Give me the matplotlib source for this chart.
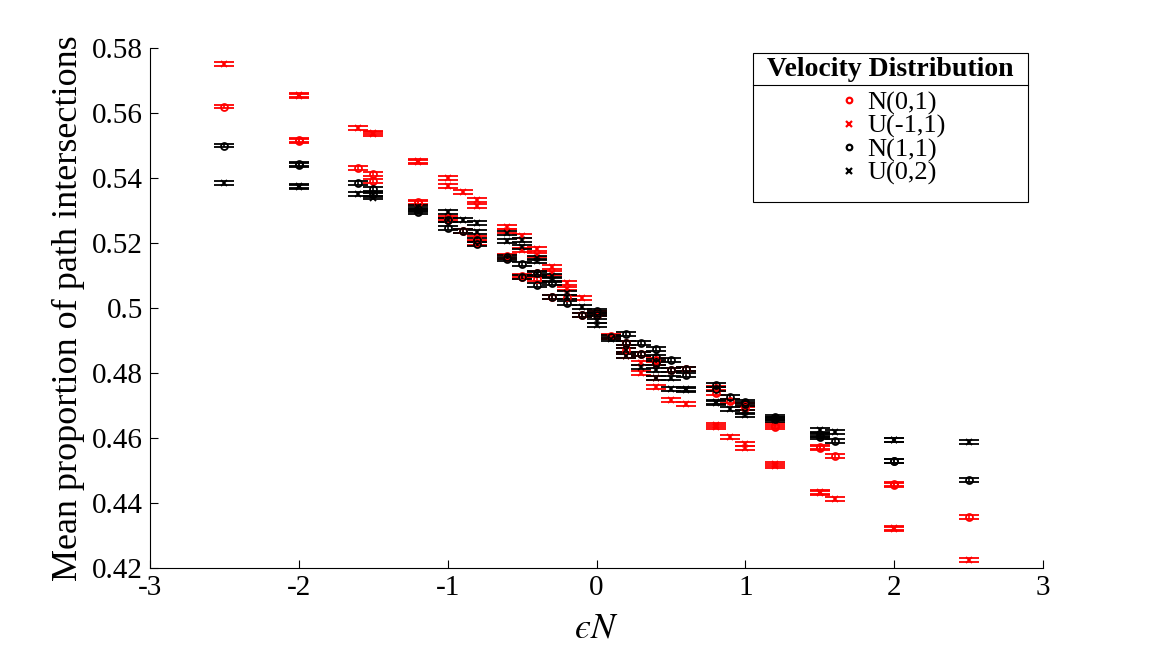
import matplotlib
matplotlib.use("Agg")
import matplotlib.pyplot as plt
from matplotlib.lines import Line2D
from matplotlib.patches import Rectangle
from matplotlib.ticker import FuncFormatter

plt.rcParams['font.family'] = ['Liberation Serif', 'DejaVu Serif']
plt.rcParams['mathtext.fontset'] = 'stix'
plt.rcParams['axes.unicode_minus'] = False

# ---- data (eps*N, mean proportion) ----
n01_x = [-2.5, -2.0, -2.0, -1.6, -1.5, -1.5, -1.2, -1.2, -1.0, -1.0, -0.9, -0.8, -0.8,
         -0.6, -0.6, -0.5, -0.5, -0.4, -0.4, -0.3, -0.2, -0.1, 0.0, 0.0, 0.1, 0.2, 0.2,
         0.3, 0.4, 0.4, 0.5, 0.6, 0.8, 0.8, 0.9, 1.0, 1.0, 1.2, 1.2, 1.5, 1.5, 1.6,
         2.0, 2.0, 2.5]
n01_y = [0.5620, 0.5518, 0.5515, 0.5430, 0.5412, 0.5391, 0.5326, 0.5322, 0.5277, 0.5270,
         0.5237, 0.5215, 0.5200, 0.5157, 0.5160, 0.5095, 0.5100, 0.5108, 0.5090, 0.5034,
         0.5035, 0.4978, 0.4985, 0.4980, 0.4914, 0.4892, 0.4870, 0.4858, 0.4840, 0.4830,
         0.4809, 0.4812, 0.4754, 0.4738, 0.4714, 0.4702, 0.4692, 0.4634, 0.4640, 0.4569,
         0.4572, 0.4545, 0.4458, 0.4455, 0.4358]
n01_err = 0.0006

u11_x = [-2.5, -2.0, -2.0, -1.6, -1.5, -1.5, -1.2, -1.2, -1.0, -1.0, -0.9, -0.8, -0.8,
         -0.6, -0.6, -0.5, -0.5, -0.4, -0.4, -0.3, -0.3, -0.2, -0.2, -0.1, 0.0, 0.1,
         0.2, 0.2, 0.3, 0.3, 0.4, 0.4, 0.5, 0.6, 0.8, 0.8, 0.9, 1.0, 1.0, 1.2, 1.2,
         1.5, 1.5, 1.6, 2.0, 2.0, 2.5]
u11_y = [0.5750, 0.5655, 0.5652, 0.5555, 0.5540, 0.5535, 0.5453, 0.5450, 0.5400, 0.5375,
         0.5357, 0.5332, 0.5314, 0.5250, 0.5237, 0.5222, 0.5178, 0.5182, 0.5163, 0.5126,
         0.5108, 0.5077, 0.5060, 0.5030, 0.4985, 0.4910, 0.4852, 0.4870, 0.4831, 0.4800,
         0.4785, 0.4757, 0.4717, 0.4705, 0.4634, 0.4640, 0.4603, 0.4582, 0.4569, 0.4514,
         0.4520, 0.4435, 0.4431, 0.4412, 0.4322, 0.4320, 0.4225]
u11_err = 0.0006

n11_x = [-2.5, -2.0, -2.0, -1.6, -1.5, -1.5, -1.2, -1.2, -1.0, -1.0, -0.9, -0.8, -0.8,
         -0.6, -0.6, -0.5, -0.5, -0.4, -0.4, -0.3, -0.3, -0.2, -0.1, 0.0, 0.0, 0.0, 0.1,
         0.2, 0.2, 0.3, 0.3, 0.4, 0.4, 0.4, 0.5, 0.5, 0.6, 0.6, 0.8, 0.8, 0.9, 1.0, 1.0,
         1.2, 1.2, 1.5, 1.5, 1.6, 2.0, 2.0, 2.5]
n11_y = [0.5500, 0.5442, 0.5440, 0.5385, 0.5365, 0.5350, 0.5305, 0.5295, 0.5271, 0.5246,
         0.5237, 0.5197, 0.5210, 0.5157, 0.5150, 0.5135, 0.5095, 0.5108, 0.5071, 0.5077,
         0.5034, 0.5015, 0.4978, 0.4990, 0.4985, 0.4980, 0.4911, 0.4920, 0.4892, 0.4892,
         0.4858, 0.4874, 0.4831, 0.4850, 0.4840, 0.4809, 0.4812, 0.4794, 0.4763, 0.4750,
         0.4726, 0.4711, 0.4705, 0.4665, 0.4660, 0.4603, 0.4610, 0.4591, 0.4530, 0.4528,
         0.4470]
n11_err = 0.0006

u02_x = [-2.5, -2.0, -2.0, -1.6, -1.5, -1.5, -1.2, -1.2, -1.0, -1.0, -0.9, -0.8, -0.8,
         -0.6, -0.6, -0.5, -0.5, -0.4, -0.4, -0.4, -0.3, -0.3, -0.2, -0.2, -0.1, 0.0,
         0.0, 0.1, 0.2, 0.2, 0.3, 0.4, 0.4, 0.5, 0.5, 0.6, 0.6, 0.8, 0.8, 0.9, 1.0, 1.0,
         1.2, 1.2, 1.5, 1.5, 1.6, 2.0, 2.0, 2.5]
u02_y = [0.5385, 0.5375, 0.5372, 0.5350, 0.5348, 0.5340, 0.5310, 0.5300, 0.5295, 0.5271,
         0.5271, 0.5262, 0.5234, 0.5231, 0.5206, 0.5210, 0.5188, 0.5154, 0.5145, 0.5105,
         0.5100, 0.5085, 0.5046, 0.5034, 0.5003, 0.4948, 0.4960, 0.4905, 0.4871, 0.4852,
         0.4818, 0.4809, 0.4785, 0.4785, 0.4751, 0.4748, 0.4752, 0.4708, 0.4712, 0.4689,
         0.4680, 0.4671, 0.4655, 0.4660, 0.4625, 0.4609, 0.4618, 0.4595, 0.4593, 0.4587]
u02_err = 0.0006

labels = ['N(0,1)', 'U(-1,1)', 'N(1,1)', 'U(0,2)']
legend_title = 'Velocity Distribution'
x_ticks = [-3, -2, -1, 0, 1, 2, 3]
y_ticks = [0.42, 0.44, 0.46, 0.48, 0.5, 0.52, 0.54, 0.56, 0.58]

series = [
    (n01_x, n01_y, n01_err, 'red', 'o'),
    (u11_x, u11_y, u11_err, 'red', 'x'),
    (n11_x, n11_y, n11_err, 'black', 'o'),
    (u02_x, u02_y, u02_err, 'black', 'x'),
]

fig = plt.figure(figsize=(11.51, 6.49), dpi=100)
ax = fig.add_axes([0.1303, 0.1248, 0.7759, 0.8012])

for xs, ys, err, col, mk in series:
    ax.errorbar(xs, ys, yerr=[err] * len(ys), fmt=mk, color=col, ecolor=col,
                mfc='none', mec=col, ms=5 if mk == 'o' else 4.5, mew=1.3,
                elinewidth=1.2, capsize=7, capthick=1.6, linestyle='none')

ax.set_xlim(-3, 3)
ax.set_ylim(0.42, 0.58)
ax.set_xticks(x_ticks)
ax.set_yticks(y_ticks)
ax.yaxis.set_major_formatter(FuncFormatter(lambda v, p: ('%g' % round(v, 4))))
ax.xaxis.set_major_formatter(FuncFormatter(lambda v, p: ('%g' % v)))
ax.tick_params(direction='in', length=6, width=0.8, labelsize=21, pad=5)
ax.spines['top'].set_visible(False)
ax.spines['right'].set_visible(False)
ax.spines['left'].set_linewidth(0.8)
ax.spines['bottom'].set_linewidth(0.8)

ax.set_xlabel('$\u03f5N$', fontsize=26, labelpad=8)
ax.set_ylabel('Mean proportion of path intersections', fontsize=26, labelpad=5)

# legend frame (drawn in axes fraction) with a rule under the title
bx0, bx1, by0, by1, bsep = 0.675, 0.983, 0.704, 0.990, 0.929
ax.add_patch(Rectangle((bx0, by0), bx1 - bx0, by1 - by0, transform=ax.transAxes,
                       facecolor='white', edgecolor='black', lw=0.8, clip_on=False,
                       zorder=5))
ax.add_line(Line2D([bx0, bx1], [bsep, bsep], transform=ax.transAxes, color='black',
                   lw=0.8, clip_on=False, zorder=6))
ax.text((bx0 + bx1) / 2, (by1 + bsep) / 2, legend_title, transform=ax.transAxes,
        ha='center', va='center', fontsize=20, fontweight='bold', zorder=7)

handles = [Line2D([], [], linestyle='none', marker=s[4], color=s[3], mfc='none',
                  mec=s[3], ms=4, mew=1.6) for s in series]
leg = ax.legend(handles, labels, loc='upper center',
                bbox_to_anchor=((bx0 + bx1) / 2 + 0.003, bsep - 0.012),
                prop={'size': 19}, frameon=False, handlelength=0.6,
                handletextpad=0.4, labelspacing=-0.02, borderpad=0.0, borderaxespad=0)
leg.set_zorder(8)

fig.savefig('out.png', dpi=100)
